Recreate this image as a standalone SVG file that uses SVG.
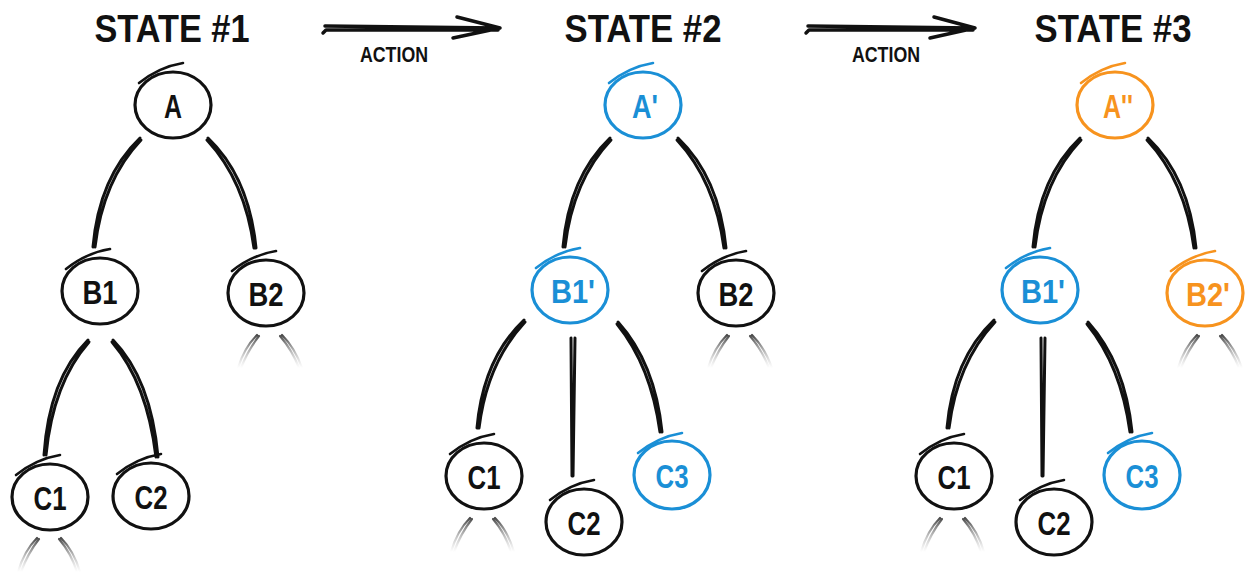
<svg xmlns="http://www.w3.org/2000/svg" width="1248" height="573" viewBox="0 0 1248 573">
  <defs>
    <linearGradient id="fade" x1="0" y1="0" x2="0" y2="1">
      <stop offset="0" stop-color="#333" stop-opacity="0.9"/>
      <stop offset="1" stop-color="#999" stop-opacity="0"/>
    </linearGradient>
  </defs>
  <style>
    .bg { fill: #ffffff; }
    .ring { fill: none; stroke-width: 3.2; }
    .tick { fill: none; stroke-width: 2.6; stroke-linecap: round; }
    .k .ring, .k .tick { stroke: #111; }
    .b .ring, .b .tick { stroke: #1a8fd6; }
    .o .ring, .o .tick { stroke: #f7931e; }
    .lbl { font-family: "Liberation Sans", Arial, sans-serif; font-weight: bold; font-size: 34px; text-anchor: middle; }
    .k .lbl { fill: #111; }
    .b .lbl { fill: #1a8fd6; }
    .o .lbl { fill: #f7931e; }
    .title { font-family: "Liberation Sans", Arial, sans-serif; font-weight: bold; font-size: 38px; fill: #111; text-anchor: middle; }
    .act { font-family: "Liberation Sans", Arial, sans-serif; font-weight: bold; font-size: 22px; fill: #111; text-anchor: middle; }
    .edge { fill: none; stroke: #111; stroke-width: 3; stroke-linecap: round; }
    .stub { fill: none; stroke: url(#fade); stroke-width: 2.2; stroke-linecap: round; }
    .arrow { fill: none; stroke: #111; stroke-width: 3.5; stroke-linecap: round; stroke-linejoin: round; }
  </style>
  <rect class="bg" x="0" y="0" width="1248" height="573"/>

  <!-- headings -->
  <g id="titles">
    <text class="title" x="172" y="42" textLength="155" lengthAdjust="spacingAndGlyphs">STATE #1</text>
    <text class="title" x="643" y="42" textLength="157" lengthAdjust="spacingAndGlyphs">STATE #2</text>
    <text class="title" x="1113" y="42" textLength="157" lengthAdjust="spacingAndGlyphs">STATE #3</text>
  </g>

  <!-- action arrows between states -->
  <g id="action-1">
    <path class="arrow" d="M325 26 L498 28 M323 33 L326 30 L498 30 M457 17 L500 28 L453 38"/>
    <text class="act" x="394" y="62" textLength="68" lengthAdjust="spacingAndGlyphs">ACTION</text>
  </g>
  <g id="action-2">
    <path class="arrow" d="M808 26 L973 28 M806 33 L809 30 L973 30 M934 17 L975 28 L930 38"/>
    <text class="act" x="886" y="62" textLength="68" lengthAdjust="spacingAndGlyphs">ACTION</text>
  </g>

  <!-- connectors: each edge is a pair of close strokes -->
  <g id="connectors">
    <!-- state 1 -->
    <path class="edge" d="M140 138 Q99 177 93 247 M141 140 Q103 180 95 247"/>
    <path class="edge" d="M208 138 Q249 177 256 248 M207 140 Q245 181 254 248"/>
    <path class="edge" d="M88 340 Q49 379 44 455 M89 342 Q53 383 46 455"/>
    <path class="edge" d="M113 340 Q151 379 158 457 M112 342 Q147 383 156 457"/>
    <path class="stub" d="M257 335 Q244 348 238 368 M259 336 Q248 350 241 368"/>
    <path class="stub" d="M282 335 Q295 348 302 368 M280 336 Q292 350 299 368"/>
    <path class="stub" d="M37 538 Q24 551 18 572 M39 539 Q28 553 21 572"/>
    <path class="stub" d="M61 538 Q74 551 80 572 M59 539 Q71 553 77 572"/>

    <!-- state 2 -->
    <path class="edge" d="M610 138 Q569 177 563 247 M611 140 Q573 180 565 247"/>
    <path class="edge" d="M678 138 Q719 177 726 248 M677 140 Q715 181 724 248"/>
    <path class="edge" d="M524 320 Q483 359 477 428 M525 322 Q487 363 479 428"/>
    <path class="edge" d="M571 338 L572 476 M575 338 L573 476"/>
    <path class="edge" d="M618 322 Q655 363 662 432 M617 324 Q651 366 660 432"/>
    <path class="stub" d="M727 335 Q714 348 708 368 M729 336 Q718 350 711 368"/>
    <path class="stub" d="M752 335 Q765 348 772 368 M750 336 Q762 350 769 368"/>
    <path class="stub" d="M470 518 Q457 531 451 552 M472 519 Q461 533 454 552"/>
    <path class="stub" d="M495 518 Q508 531 514 552 M493 519 Q505 533 511 552"/>

    <!-- state 3 -->
    <path class="edge" d="M1080 138 Q1039 177 1033 247 M1081 140 Q1043 180 1035 247"/>
    <path class="edge" d="M1148 138 Q1189 177 1196 248 M1147 140 Q1185 181 1194 248"/>
    <path class="edge" d="M994 320 Q953 359 947 428 M995 322 Q957 363 949 428"/>
    <path class="edge" d="M1041 338 L1042 476 M1045 338 L1043 476"/>
    <path class="edge" d="M1088 322 Q1125 363 1132 432 M1087 324 Q1121 366 1130 432"/>
    <path class="stub" d="M1197 335 Q1184 348 1178 368 M1199 336 Q1188 350 1181 368"/>
    <path class="stub" d="M1222 335 Q1235 348 1242 368 M1220 336 Q1232 350 1239 368"/>
    <path class="stub" d="M940 518 Q927 531 921 552 M942 519 Q931 533 924 552"/>
    <path class="stub" d="M965 518 Q978 531 984 552 M963 519 Q975 533 981 552"/>
  </g>

  <!-- state 1 nodes -->
  <g id="s1-A" class="k" transform="translate(173,105)">
    <ellipse class="ring" rx="38" ry="33"/>
    <path class="tick" d="M-34 -22 Q-14 -38 10 -42"/>
    <text class="lbl" y="13" textLength="18" lengthAdjust="spacingAndGlyphs">A</text>
  </g>
  <g id="s1-B1" class="k" transform="translate(100,291)">
    <ellipse class="ring" rx="38" ry="33"/>
    <path class="tick" d="M-34 -22 Q-14 -38 10 -42"/>
    <text class="lbl" y="13" textLength="35" lengthAdjust="spacingAndGlyphs">B1</text>
  </g>
  <g id="s1-B2" class="k" transform="translate(266,293)">
    <ellipse class="ring" rx="38" ry="33"/>
    <path class="tick" d="M-34 -22 Q-14 -38 10 -42"/>
    <text class="lbl" y="13" textLength="35" lengthAdjust="spacingAndGlyphs">B2</text>
  </g>
  <g id="s1-C1" class="k" transform="translate(50,497)">
    <ellipse class="ring" rx="38" ry="33"/>
    <path class="tick" d="M-34 -22 Q-14 -38 10 -42"/>
    <text class="lbl" y="13" textLength="33" lengthAdjust="spacingAndGlyphs">C1</text>
  </g>
  <g id="s1-C2" class="k" transform="translate(151,496)">
    <ellipse class="ring" rx="38" ry="33"/>
    <path class="tick" d="M-34 -22 Q-14 -38 10 -42"/>
    <text class="lbl" y="13" textLength="33" lengthAdjust="spacingAndGlyphs">C2</text>
  </g>

  <!-- state 2 nodes -->
  <g id="s2-A" class="b" transform="translate(643,105)">
    <ellipse class="ring" rx="38" ry="33"/>
    <path class="tick" d="M-34 -22 Q-14 -38 10 -42"/>
    <text class="lbl" x="2" y="13" textLength="26" lengthAdjust="spacingAndGlyphs">A'</text>
  </g>
  <g id="s2-B1" class="b" transform="translate(570,290)">
    <ellipse class="ring" rx="38" ry="33"/>
    <path class="tick" d="M-34 -22 Q-14 -38 10 -42"/>
    <text class="lbl" x="3" y="13" textLength="44" lengthAdjust="spacingAndGlyphs">B1'</text>
  </g>
  <g id="s2-B2" class="k" transform="translate(736,293)">
    <ellipse class="ring" rx="38" ry="33"/>
    <path class="tick" d="M-34 -22 Q-14 -38 10 -42"/>
    <text class="lbl" y="13" textLength="35" lengthAdjust="spacingAndGlyphs">B2</text>
  </g>
  <g id="s2-C1" class="k" transform="translate(484,476)">
    <ellipse class="ring" rx="38" ry="33"/>
    <path class="tick" d="M-34 -22 Q-14 -38 10 -42"/>
    <text class="lbl" y="13" textLength="33" lengthAdjust="spacingAndGlyphs">C1</text>
  </g>
  <g id="s2-C2" class="k" transform="translate(584,522)">
    <ellipse class="ring" rx="38" ry="33"/>
    <path class="tick" d="M-34 -22 Q-14 -38 10 -42"/>
    <text class="lbl" y="13" textLength="33" lengthAdjust="spacingAndGlyphs">C2</text>
  </g>
  <g id="s2-C3" class="b" transform="translate(672,475)">
    <ellipse class="ring" rx="38" ry="34"/>
    <path class="tick" d="M-34 -22 Q-14 -38 10 -42"/>
    <text class="lbl" y="13" textLength="33" lengthAdjust="spacingAndGlyphs">C3</text>
  </g>

  <!-- state 3 nodes -->
  <g id="s3-A" class="o" transform="translate(1115,105)">
    <ellipse class="ring" rx="38" ry="33"/>
    <path class="tick" d="M-34 -22 Q-14 -38 10 -42"/>
    <text class="lbl" x="3" y="13" textLength="30" lengthAdjust="spacingAndGlyphs">A''</text>
  </g>
  <g id="s3-B1" class="b" transform="translate(1040,290)">
    <ellipse class="ring" rx="38" ry="33"/>
    <path class="tick" d="M-34 -22 Q-14 -38 10 -42"/>
    <text class="lbl" x="3" y="13" textLength="44" lengthAdjust="spacingAndGlyphs">B1'</text>
  </g>
  <g id="s3-B2" class="o" transform="translate(1205,293)">
    <ellipse class="ring" rx="38" ry="33"/>
    <path class="tick" d="M-34 -22 Q-14 -38 10 -42"/>
    <text class="lbl" x="3" y="13" textLength="44" lengthAdjust="spacingAndGlyphs">B2'</text>
  </g>
  <g id="s3-C1" class="k" transform="translate(954,476)">
    <ellipse class="ring" rx="38" ry="33"/>
    <path class="tick" d="M-34 -22 Q-14 -38 10 -42"/>
    <text class="lbl" y="13" textLength="33" lengthAdjust="spacingAndGlyphs">C1</text>
  </g>
  <g id="s3-C2" class="k" transform="translate(1054,522)">
    <ellipse class="ring" rx="38" ry="33"/>
    <path class="tick" d="M-34 -22 Q-14 -38 10 -42"/>
    <text class="lbl" y="13" textLength="33" lengthAdjust="spacingAndGlyphs">C2</text>
  </g>
  <g id="s3-C3" class="b" transform="translate(1142,475)">
    <ellipse class="ring" rx="38" ry="34"/>
    <path class="tick" d="M-34 -22 Q-14 -38 10 -42"/>
    <text class="lbl" y="13" textLength="33" lengthAdjust="spacingAndGlyphs">C3</text>
  </g>
</svg>
